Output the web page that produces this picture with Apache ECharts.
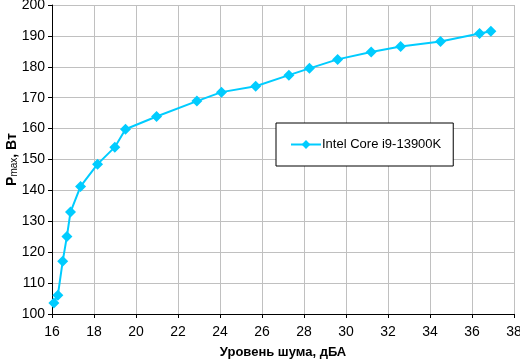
<!DOCTYPE html>
<html>
<head>
<meta charset="utf-8">
<script src="https://cdn.jsdelivr.net/npm/echarts@6/dist/echarts.min.js"></script>
<style>
  html, body { margin: 0; padding: 0; background: #fff; }
  #chart { width: 520px; height: 359px; }
</style>
</head>
<body>
<div id="chart"></div>
<script>
  // уровень шума, дБА
  const noiseLevels = [16.09, 16.28, 16.51, 16.71, 16.88, 17.36, 18.17, 18.99, 19.5, 20.98,
    22.9, 24.07, 25.7, 27.28, 28.26, 29.6, 31.2, 32.6, 34.5, 36.36, 36.9]
  // Pmax, Вт
  const powerValues = [103.6, 106.1, 117.1, 125.1, 133, 141.3, 148.5, 154, 159.8, 163.9,
    168.9, 171.8, 173.7, 177.3, 179.5, 182.4, 184.8, 186.6, 188.2, 190.8, 191.5]
  const seriesName = 'Intel Core i9-13900K'
  const xTicks = { min: 16, max: 38, interval: 2 }
  const yTicks = { min: 100, max: 200, interval: 10 }

  const lineColor = '#00CCFF'
  const font = 'Arial, "Liberation Sans", sans-serif'

  const chart = echarts.init(document.getElementById('chart'))
  chart.setOption({
    animation: false,
    backgroundColor: '#fff',
    grid: { left: 52, right: 6, top: 5, bottom: 45, containLabel: false, outerBoundsMode: 'none' },
    legend: {
      left: 276,
      top: 123,
      width: 150,
      orient: 'vertical',
      padding: [15, 12, 15, 14],
      borderColor: '#000',
      borderWidth: 1,
      backgroundColor: '#fff',
      itemWidth: 30,
      itemHeight: 11,
      itemGap: 0,
      textStyle: { fontFamily: font, fontSize: 13, color: '#000', padding: [0, 0, 0, -4] },
      data: [seriesName]
    },
    xAxis: {
      type: 'value',
      min: xTicks.min,
      max: xTicks.max,
      interval: xTicks.interval,
      name: 'Уровень шума, дБА',
      nameLocation: 'middle',
      nameGap: 32,
      nameTextStyle: { fontFamily: font, fontSize: 13, fontWeight: 'bold', color: '#000' },
      axisLine: { show: true, lineStyle: { color: '#000', width: 1 } },
      axisTick: { show: true, length: 4, lineStyle: { color: '#000' } },
      axisLabel: { fontFamily: font, fontSize: 14, color: '#000', margin: 11 },
      splitLine: { show: true, lineStyle: { color: '#c0c0c0', width: 1 } }
    },
    yAxis: {
      type: 'value',
      min: yTicks.min,
      max: yTicks.max,
      interval: yTicks.interval,
      name: '{b|P}{s|max}{b|, Вт}',
      nameLocation: 'middle',
      nameRotate: 90,
      nameGap: 33,
      nameMoveOverlap: false,
      nameTextStyle: {
        rich: {
          b: { fontFamily: font, fontSize: 14, fontWeight: 'bold', color: '#000', verticalAlign: 'bottom', lineHeight: 16 },
          s: { fontFamily: font, fontSize: 10, color: '#000', verticalAlign: 'bottom', lineHeight: 12 }
        }
      },
      axisLine: { show: true, lineStyle: { color: '#000', width: 1 } },
      axisTick: { show: true, length: 4, lineStyle: { color: '#000' } },
      axisLabel: { fontFamily: font, fontSize: 14, color: '#000', margin: 7 },
      splitLine: { show: true, lineStyle: { color: '#c0c0c0', width: 1 } }
    },
    series: [
      {
        name: seriesName,
        type: 'line',
        data: noiseLevels.map((x, i) => [x, powerValues[i]]),
        symbol: 'diamond',
        symbolSize: 11,
        lineStyle: { color: lineColor, width: 2 },
        itemStyle: { color: lineColor }
      }
    ]
  })
</script>
</body>
</html>
